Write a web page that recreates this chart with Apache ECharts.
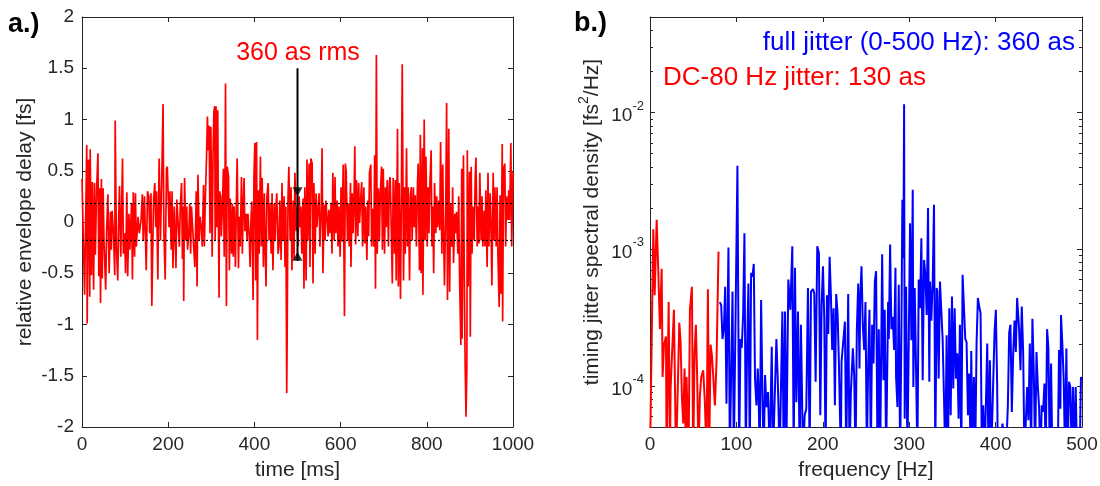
<!DOCTYPE html>
<html><head><meta charset="utf-8">
<script src="https://cdn.jsdelivr.net/npm/echarts@6/dist/echarts.min.js"></script>
<style>html,body{margin:0;padding:0;background:#fff}#c{width:1100px;height:486px}</style>
</head><body><div id="c"></div>
<script>
// ---------- panel a: relative envelope delay vs time ----------
const timeMs = [0,6,11,12,15,18,19,22,24,27,29,31,34,37,39,41,43,45,47,49,51,55,57,60,63,66,68,70,73,76,77,80,83,85,87,90,94,96,99,101,104,106,109,111,115,117,119,122,124,126,130,133,137,140,142,145,149,152,155,157,160,162,166,169,171,173,176,178,179,182,185,188,190,193,196,198,
202,204,207,209,211,214,216,218,220,223,226,228,231,233,235,236,238,241,243,245,248,250,252,254,257,260,262,265,267,269,272,274,277,279,282,284,286,289,291,293,295,297,299,302,304,306,308,309,311,313,315,316,318,319,322,323,326,328,330,332,333,335,337,340,342,344,347,349,351,353,356,358,360,363,365,367,370,372,374,376,378,381,383,385,388,390,392,394,397,399,401,403,
404,405,407,409,411,414,416,418,421,423,425,427,429,432,434,436,439,441,443,446,448,450,452,455,457,459,462,464,466,469,471,473,475,476,478,480,483,485,487,490,492,494,497,499,501,504,506,508,510,513,515,517,520,522,524,527,529,531,534,536,538,541,543,545,548,550,552,555,557,559,562,564,566,568,571,573,575,578,580,582,585,587,589,592,594,596,599,601,603,606,
609,611,613,616,618,620,623,624,627,629,631,633,635,637,640,642,644,647,649,651,654,656,658,661,663,665,667,670,672,674,677,679,681,683,685,688,690,692,695,697,699,702,704,706,708,711,713,715,718,720,722,725,727,729,732,734,736,739,741,743,746,748,750,753,755,757,760,762,764,766,769,771,773,776,778,780,783,785,787,790,791,794,796,798,801,803,805,807,810,
812,814,816,818,821,823,825,828,830,832,835,837,839,841,844,846,848,851,853,855,858,860,862,865,867,869,872,874,876,879,881,882,885,887,889,891,893,894,896,899,901,903,905,907,910,912,914,917,919,921,923,926,928,930,933,935,937,940,942,944,947,949,951,954,956,958,961,963,965,968,970,972,975,976,978,981,983,985,988,990,992,995,997,1000];
const delayFs = [0.42,-0.71,0.75,-0.99,0.61,-0.73,0.71,-0.52,0.39,-0.66,0.38,-0.32,0.33,0.67,-0.53,0.33,-0.79,0.42,-0.55,0.33,-0.18,-0.66,-0.11,0.27,-0.50,0.10,-0.27,0.11,-0.11,-0.52,0.99,-0.27,-0.57,0.02,0.35,-0.34,0.62,-0.31,-0.11,-0.50,0.29,-0.53,0.08,-0.27,0.18,-0.56,0.29,-0.34,0.28,-0.24,0.05,-0.11,0.02,0.27,-0.18,0.25,-0.47,0.30,0.25,-0.11,0.28,-0.82,0.22,0.38,-0.05,0.30,-0.56,0.31,0.62,-0.18,0.41,1.15,-0.09,-0.56,0.52,0.54,
-0.05,0.30,-0.27,0.30,-0.45,0.15,-0.14,-0.45,0.22,0.23,-0.24,0.15,0.38,-0.36,0.15,-0.77,0.43,-0.18,0.15,-0.27,-0.09,0.18,-0.31,0.15,-0.08,-0.31,-0.44,0.30,-0.63,0.46,-0.18,0.05,-0.06,-0.24,0.36,-0.24,0.21,0.64,1.03,0.70,0.94,-0.11,0.93,-0.34,0.64,1.08,1.13,-0.18,1.13,-0.05,1.09,0.28,-0.74,0.30,0.25,-0.14,0.15,0.52,-0.34,0.51,1.35,-0.82,0.54,0.44,-0.47,0.23,-0.31,0.18,-0.34,0.15,-0.44,0.15,0.62,-0.45,0.05,-0.24,0.44,-0.31,0.15,0.43,-0.09,0.08,-0.18,0.08,-0.14,-0.44,0.02,0.20,-0.76,0.44,0.77,-0.57,
-0.50,0.78,-1.15,0.31,-0.31,0.64,-0.24,0.43,-0.44,0.28,-0.24,-0.63,0.25,0.38,-0.18,0.18,-0.31,0.28,-0.47,0.18,-0.18,0.15,0.28,-0.31,-0.24,0.21,-0.37,0.38,-0.18,0.25,-0.44,0.15,-1.67,-1.14,0.25,0.54,-0.18,0.34,-0.47,0.21,-0.37,0.48,-0.09,0.15,-0.24,0.25,-0.05,0.15,-0.31,0.23,-0.65,0.34,-0.57,0.61,-0.18,0.57,-0.44,0.62,0.57,-0.60,0.38,-0.31,0.28,-0.05,0.15,0.28,-0.24,0.12,0.72,-0.50,0.17,-0.18,0.21,0.08,-0.14,0.12,-0.11,0.18,-0.31,0.48,-0.18,0.44,-0.11,0.21,-0.24,0.15,-0.34,0.34,-0.19,0.56,
-0.92,0.57,0.49,-0.18,0.18,-0.24,0.38,-0.44,0.28,-0.11,0.18,0.74,-0.22,0.41,-0.14,0.38,-0.01,0.25,0.39,-0.24,0.34,-0.21,0.15,-0.37,0.21,-0.14,0.48,0.56,-0.24,0.13,-0.24,0.65,-0.65,1.63,-0.31,0.33,-0.18,0.25,0.54,-0.27,0.52,-0.31,0.34,-0.05,0.41,-0.24,0.38,0.44,-0.14,-0.60,0.43,-0.31,0.41,-0.57,0.91,-0.63,0.38,-0.75,0.20,1.54,-0.57,0.34,-0.31,0.72,-0.24,0.34,-0.57,0.25,0.34,-0.18,0.34,-0.05,0.26,-0.24,0.31,0.57,-0.47,0.85,-0.50,0.72,-0.71,1.00,-0.18,0.64,-0.24,0.34,-0.11,0.34,0.70,
-0.24,0.15,-0.50,0.38,-0.11,0.25,-0.05,0.21,-0.08,0.78,-0.31,0.56,-0.11,-0.62,0.15,1.16,-0.76,0.91,-0.68,0.18,-0.24,0.34,-0.40,0.08,-0.11,0.10,-0.31,0.25,-0.53,-1.20,0.52,-1.14,0.65,-0.50,-1.40,-1.90,-1.41,0.70,-0.63,0.49,-1.12,0.54,-0.31,0.15,-0.18,0.38,0.63,-0.24,0.15,-0.21,0.48,-0.18,0.25,-0.24,0.11,-0.24,0.31,-0.44,0.48,-0.24,0.28,-0.05,-0.62,0.48,-0.18,0.34,-0.24,0.34,-0.32,-0.83,0.26,-0.70,0.76,-0.97,0.51,0.57,-0.24,0.25,0.02,0.31,0.02,0.77,-0.24,0.49];
const rmsBand = [0.18, -0.18];          // dotted ±rms lines [fs]
const timeRange = [0, 1000];
const arrowX = 500;                      // ms
const arrowLine = [1.5, -0.38];          // fs
const arrowHeads = [0.295, -0.335];      // fs (down head, up head)

// ---------- panel b: timing jitter spectral density ----------
const freqRed = [0,3.8,5.4,7.7,9.6,11.5,13.5,14.6,16.2,18.5,19.2,21.6,23.1,23.9,25.4,27.7,30.0,31.6,33.9,35.4,37.0,38.5,40.0,41.6,42.3,44.6,46.2,48.5,50.0,51.6,53.1,54.7,56.2,57.7,59.3,61.6,63.5,65.4,67.0,68.5,70.1,71.6,73.1,75.1,77.0,79.3];
const psdRed = [3e-5,1.4e-3,4.6e-4,1.64e-3,6.9e-4,2.6e-4,7.2e-4,1.16e-4,2.0e-4,2.3e-4,3e-5,4.1e-4,3e-5,9.8e-5,1.0e-4,3.6e-4,3e-5,6.8e-5,2.9e-4,2.1e-4,8.1e-5,5.3e-5,1.34e-4,3e-5,1.16e-4,3e-5,3.6e-4,5.3e-4,3e-5,1.77e-4,2.8e-4,1.07e-4,3e-5,8.3e-5,1.16e-4,1.3e-4,7.6e-5,3e-5,5.1e-4,3e-5,2.0e-4,1.68e-4,1.2e-4,7.2e-5,1.5e-4,9.6e-4];
const freqBlue = [80.8,82.4,83.9,85.5,87.0,88.5,90.8,92.4,94.7,95.5,97.0,101.2,103.2,104.7,106.2,107.8,109.3,110.9,112.4,113.9,115.5,117.0,118.6,120.1,121.6,123.2,124.7,125.5,127.0,128.6,130.1,131.6,133.2,134.7,136.6,138.6,140.9,142.4,146.3,147.8,150.1,153.2,154.7,156.3,157.8,160.1,162.4,164.7,166.3,167.8,169.4,171.3,173.2,174.7,177.1,179.0,180.9,182.8,184.8,186.3,188.6,190.1,191.7,193.6,195.5,197.1,198.6,200.2,201.7,203.2,204.8,206.3,207.9,209.4,210.9,212.5,214.0,215.5,217.1,218.6,220.9,221.7,223.2,225.6,227.1,229.4,230.9,232.5,234.8,236.3,237.9,239.4,241.0,242.5,243.3,244.8,246.3,247.9,249.4,251.0,252.5,254.0,255.6,257.1,258.7,260.2,261.7,263.3,264.8,266.4,268.7,270.2,271.7,273.3,275.6,276.4,277.9,279.4,281.0,282.5,284.1,284.8,286.4,287.9,289.5,291.0,292.1,293.3,294.1,294.8,296.4,297.9,299.5,301.0,302.5,304.1,304.8,306.4,307.9,309.5,311.0,312.5,314.1,315.6,317.2,318.7,320.2,321.8,323.3,324.1,325.6,327.2,328.7,330.2,331.8,332.6,334.1,335.6,337.2,338.7,340.3,341.8,343.3,344.9,346.4,348.0,349.5,351.0,352.6,354.1,355.7,357.2,358.7,360.3,361.8,363.4,364.9,366.4,368.0,369.5,371.1,371.8,373.4,374.9,376.4,378.0,379.5,381.1,382.6,384.1,385.7,387.2,388.8,390.3,391.8,393.4,394.9,398.8,400.3,401.8,402.6,408.0,411.9,414.2,415.7,417.2,418.8,420.3,421.9,423.4,424.9,425.7,427.2,428.8,430.3,431.9,433.4,434.9,436.5,438.0,439.6,441.1,442.6,444.2,445.7,447.3,448.8,450.3,451.9,453.4,455.0,456.5,458.0,459.6,461.1,462.7,464.2,465.7,472.0,473.4,475.0,475.7,477.3,478.8,480.4,481.9,483.4,485.0,486.5,488.1,489.6,491.1,492.7,494.2,497.3,498.8,500];
const psdBlue = [4.1e-4,3.9e-4,2.2e-4,2.6e-4,5.3e-4,7.4e-5,1.03e-3,3e-5,3e-5,4.9e-4,3e-5,4.08e-3,3e-5,2.2e-4,1.9e-4,3.3e-4,1.31e-3,3e-5,1.9e-4,5.6e-4,3e-5,6.7e-4,6.3e-4,7.8e-4,1.1e-4,7.2e-5,1.34e-4,1.0e-4,3e-5,4.25e-4,9e-5,3e-5,1.2e-4,7e-5,9e-5,3e-5,1.93e-4,3e-5,2.2e-4,1.16e-4,3e-5,3.5e-4,3e-5,3.5e-4,3e-5,6.0e-4,3.6e-4,1.05e-3,3e-5,7.3e-4,7.6e-5,3.5e-4,3e-5,2.8e-4,3e-5,6.1e-5,6.8e-5,5.2e-4,3e-5,4.9e-4,5.1e-4,4.75e-4,1.07e-4,1.05e-3,9.35e-4,6.1e-5,3.8e-4,7.5e-4,3.1e-4,3e-5,4.6e-4,2.4e-4,8.8e-4,4.6e-4,1.83e-4,3.7e-4,7.2e-5,4.7e-4,3.4e-4,1.5e-4,3e-5,1.5e-4,1.5e-4,2.95e-4,3e-5,4.7e-4,3e-5,9e-5,1.88e-4,1.2e-4,3e-5,2.56e-4,5.6e-4,1.34e-4,4.4e-4,7.5e-4,2.8e-4,1.83e-4,4.1e-4,3e-5,1.46e-4,3.6e-4,3e-5,2.8e-4,1.46e-4,5.8e-4,6.9e-4,3e-5,2.6e-4,3e-5,9.2e-4,1.1e-4,3.6e-4,3e-5,4.1e-4,2.2e-4,1.08e-3,2.6e-4,3.2e-4,1.83e-4,7.3e-4,1.16e-4,7e-5,5.5e-4,3e-5,2.56e-4,2.3e-3,8.6e-4,1.15e-2,5.75e-5,5.3e-4,3e-5,2.16e-4,1.55e-3,2.16e-4,2.72e-3,9.8e-5,5.2e-4,1.38e-4,3e-5,6.0e-4,3.7e-4,1.2e-3,1.1e-4,8.35e-4,6.5e-4,3.3e-4,2.0e-3,1.07e-4,5.8e-4,3.0e-4,5.8e-4,2.11e-3,3e-5,5.2e-4,4.9e-4,1.13e-4,5.8e-4,3.5e-4,2.2e-4,8.1e-5,3e-5,2.35e-4,3e-5,3.7e-4,6.1e-5,4.5e-4,9.55e-5,3.7e-4,1.13e-4,1.73e-4,5.75e-5,2.8e-4,3e-5,6.5e-4,3.7e-4,2.2e-4,2.1e-4,6.1e-5,1.23e-4,3e-5,1.8e-4,3e-5,1.16e-4,3e-5,2.1e-4,4.4e-4,3.8e-4,3.4e-4,3e-5,7.2e-5,3e-5,7.4e-5,2.04e-4,3e-5,1.54e-4,3e-5,2.5e-4,3.6e-4,1.01e-4,3e-5,5.3e-5,3e-5,7.2e-5,2.45e-4,2.8e-4,6.45e-5,1.68e-4,3.0e-4,1.77e-4,4.4e-4,4.4e-4,2.6e-4,1.3e-4,3.8e-4,1.77e-4,3e-5,5.3e-5,9.8e-5,5.6e-5,2.04e-4,3e-5,3.1e-4,1.3e-4,3e-5,1.77e-4,1.01e-4,7e-5,3e-5,7.2e-5,6.45e-5,1.04e-4,3e-5,2.6e-4,1.88e-4,3e-5,1.46e-4,3e-5,3e-5,1.83e-4,6.8e-5,3.3e-4,2.0e-4,1.13e-4,3e-5,1.88e-4,3e-5,1.07e-4,9.8e-5,3e-5,9.8e-5,3e-5,9.8e-5,3e-5,3e-5,1.16e-4,1.1e-4];
const freqRange = [0, 500];
const psdRange = [5e-5, 5e-2];
const logMajor = [1e-4, 1e-3, 1e-2];
const logMinor = [6e-5,7e-5,8e-5,9e-5,2e-4,3e-4,4e-4,5e-4,6e-4,7e-4,8e-4,9e-4,2e-3,3e-3,4e-3,5e-3,6e-3,7e-3,8e-3,9e-3,2e-2,3e-2,4e-2];

// ---------- text ----------
const labelA = 'a.)', labelB = 'b.)';
const noteRms = '360 as rms';
const noteFull = 'full jitter (0-500 Hz): 360 as';
const noteDC = 'DC-80 Hz jitter: 130 as';

const FONT = '"Liberation Sans", Arial, Helvetica, sans-serif';
const AX = '#262626';
const zip = (a, b) => a.map((v, i) => [v, b[i]]);

function linAxis(gridIndex, pos, min, max, interval, labels, name, nameGap) {
  return {
    type: 'value', gridIndex, position: pos, min, max, interval,
    axisLine: { show: true, onZero: false, lineStyle: { color: AX, width: 1 } },
    axisTick: { show: true, inside: true, length: 5, lineStyle: { color: AX, width: 1 } },
    axisLabel: { show: labels, color: AX, fontFamily: FONT, fontSize: 19, margin: 8, showMinLabel: true, showMaxLabel: true,
      formatter: v => String(v) },
    splitLine: { show: false },
    name: name || '', nameLocation: 'middle', nameGap: nameGap || 0,
    nameTextStyle: { color: AX, fontFamily: FONT, fontSize: 21 }
  };
}
function logAxis(pos, major, withLabels) {
  const ax = {
    type: 'log', logBase: 10, gridIndex: 1, position: pos, min: psdRange[0], max: psdRange[1],
    axisLine: { show: major, onZero: false, lineStyle: { color: AX, width: 1 } },
    axisTick: { show: true, inside: true, length: major ? 5 : 3, customValues: major ? logMajor : logMinor, lineStyle: { color: AX, width: 1 } },
    axisLabel: { show: false },
    splitLine: { show: false }, minorSplitLine: { show: false }
  };
  if (withLabels) {
    ax.axisLabel = {
      show: true, customValues: logMajor, margin: 6,
      formatter: v => '{b|10}{s|' + Math.round(Math.log10(v)) + '}',
      rich: {
        b: { fontSize: 19, fontFamily: FONT, color: AX, lineHeight: 26, verticalAlign: 'bottom' },
        s: { fontSize: 13, fontFamily: FONT, color: AX, verticalAlign: 'top' }
      }
    };
    ax.name = '{a|timing jitter spectral density [fs}{s|2}{a|/Hz]}';
    ax.nameLocation = 'middle';
    ax.nameGap = 47;
    ax.nameTextStyle = { rich: {
      a: { fontSize: 21, fontFamily: FONT, color: AX, lineHeight: 26, verticalAlign: 'bottom' },
      s: { fontSize: 14, fontFamily: FONT, color: AX, verticalAlign: 'top' }
    } };
  }
  return ax;
}

const chart = echarts.init(document.getElementById('c'), null, { renderer: 'canvas' });
const txt = (text, x, y, color, size, align, weight) => ({
  type: 'text', z: 100,
  style: { text, x, y, fill: color, fontFamily: FONT, fontSize: size, fontWeight: weight || 'normal', textAlign: align, textVerticalAlign: 'middle' }
});

chart.setOption({
  animation: false,
  backgroundColor: '#fff',
  grid: [
    { left: 82, top: 17, width: 431, height: 410, outerBoundsMode: 'none' },
    { left: 650, top: 17, width: 432, height: 410, outerBoundsMode: 'none' }
  ],
  xAxis: [
    linAxis(0, 'bottom', timeRange[0], timeRange[1], 200, true, 'time [ms]', 33),
    linAxis(0, 'top', timeRange[0], timeRange[1], 200, false),
    linAxis(1, 'bottom', freqRange[0], freqRange[1], 100, true, 'frequency [Hz]', 33),
    linAxis(1, 'top', freqRange[0], freqRange[1], 100, false)
  ],
  yAxis: [
    linAxis(0, 'left', -2, 2, 0.5, true, 'relative envelope delay [fs]', 46),
    linAxis(0, 'right', -2, 2, 0.5, false),
    logAxis('left', true, true),
    logAxis('left', false, false),
    logAxis('right', true, false),
    logAxis('right', false, false)
  ],
  series: [
    { type: 'line', xAxisIndex: 0, yAxisIndex: 0, data: zip(timeMs, delayFs), showSymbol: false, symbol: 'none',
      lineStyle: { color: '#ff0000', width: 1.7 }, z: 2 },
    { type: 'line', xAxisIndex: 0, yAxisIndex: 0, data: [[timeRange[0], rmsBand[0]], [timeRange[1], rmsBand[0]]], symbol: 'none',
      lineStyle: { color: '#000', width: 1.2, type: [2, 2] }, z: 3 },
    { type: 'line', xAxisIndex: 0, yAxisIndex: 0, data: [[timeRange[0], rmsBand[1]], [timeRange[1], rmsBand[1]]], symbol: 'none',
      lineStyle: { color: '#000', width: 1.2, type: [2, 2] }, z: 3 },
    { type: 'line', xAxisIndex: 0, yAxisIndex: 0, data: [[arrowX, arrowLine[0]], [arrowX, arrowLine[1]]], symbol: 'none',
      lineStyle: { color: '#000', width: 2 }, z: 4 },
    { type: 'scatter', xAxisIndex: 0, yAxisIndex: 0, symbol: 'triangle', symbolSize: [10, 9],
      itemStyle: { color: '#000' }, z: 5,
      data: [{ value: [arrowX, arrowHeads[0]], symbolRotate: 180 }, { value: [arrowX, arrowHeads[1]] }] },
    { type: 'line', xAxisIndex: 2, yAxisIndex: 2, data: zip(freqRed, psdRed), showSymbol: false, symbol: 'none',
      lineStyle: { color: '#ff0000', width: 2 }, z: 2 },
    { type: 'line', xAxisIndex: 2, yAxisIndex: 2, data: zip(freqBlue, psdBlue), showSymbol: false, symbol: 'none',
      lineStyle: { color: '#0000ff', width: 2 }, z: 2 }
  ],
  graphic: [
    txt(labelA, 8, 25, '#000', 27, 'left', 'bold'),
    txt(labelB, 574, 24, '#000', 27, 'left', 'bold'),
    txt(noteRms, 298, 53, '#ff0000', 25, 'center'),
    txt(noteFull, 1075, 43, '#0000ff', 26, 'right'),
    txt(noteDC, 663, 78, '#ff0000', 26, 'left')
  ]
});
</script></body></html>
